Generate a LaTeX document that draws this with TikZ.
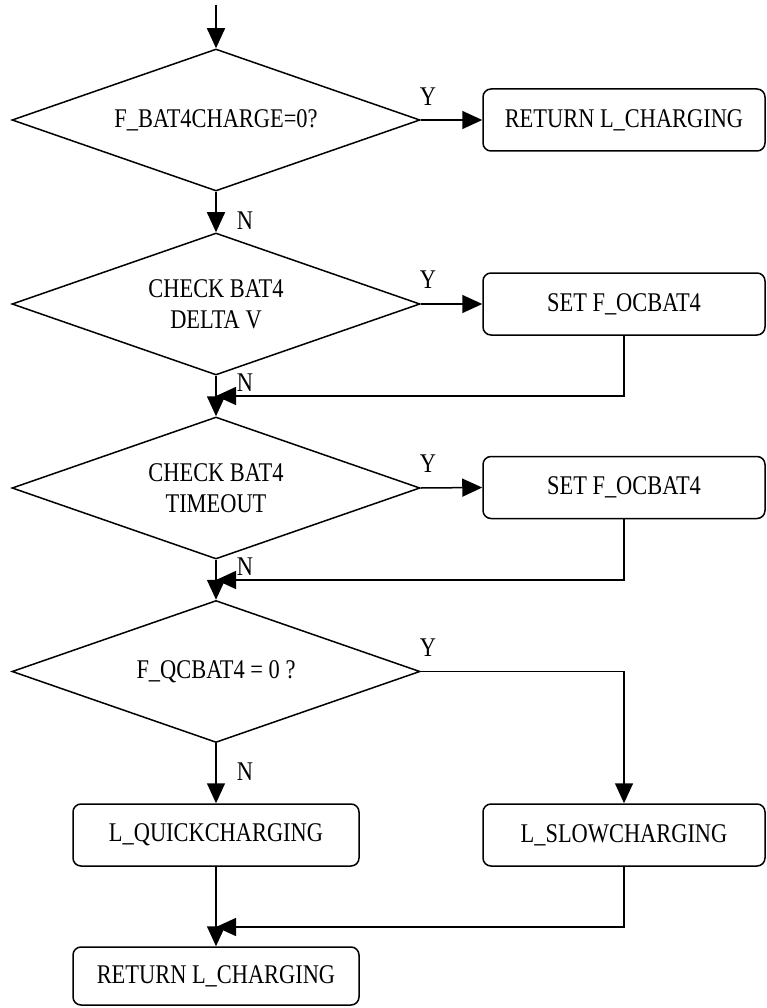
\documentclass[tikz,border=0pt]{standalone}
\usepackage{fontspec}
\setmainfont[FakeStretch=0.83]{Liberation Serif}
\usetikzlibrary{shapes.geometric,arrows.meta}
\begin{document}
\begin{tikzpicture}[x=1pt,y=-1pt,
  every node/.style={font=\fontsize{27}{31}\selectfont},
  dec/.style={diamond,aspect=2.873,draw,line width=1.5pt,minimum width=408pt,minimum height=142pt,inner sep=0pt,align=center},
  proc/.style={draw,rounded corners=8pt,line width=1.5pt,minimum height=62pt,inner sep=0pt},
  lbox/.style={proc,minimum width=286pt},
  rbox/.style={proc,minimum width=282pt},
  lab/.style={inner sep=0pt},
  conn/.style={line width=1.5pt},
  arr/.style={conn,-{Triangle[length=20pt,width=18pt]}}]
\useasboundingbox (0,0) rectangle (766,1008);

\coordinate (start) at (216,5);
\node[dec] (d1) at (216,120) {F\_BAT4CHARGE=0?};
\node[rbox] (b1) at (624,120) {RETURN L\_CHARGING};
\node[dec] (d2) at (216,304) {CHECK BAT4\\DELTA V};
\node[rbox] (b2) at (624,304) {SET F\_OCBAT4};
\node[dec] (d3) at (216,488) {CHECK BAT4\\TIMEOUT};
\node[rbox] (b3) at (624,487.5) {SET F\_OCBAT4};
\node[dec] (d4) at (216,671.5) {F\_QCBAT4 = 0 ?};
\node[lbox] (qb) at (216,835) {L\_QUICKCHARGING};
\node[rbox] (sb) at (624,835) {L\_SLOWCHARGING};
\node[lbox,minimum height=58pt] (ret) at (216,976) {RETURN L\_CHARGING};

\node[lab] (y1) at (428,97) {Y};
\node[lab] (y2) at (428,280) {Y};
\node[lab] (y3) at (428,464) {Y};
\node[lab] (y4) at (428,648) {Y};
\node[lab] (n1) at (245,221) {N};
\node[lab] (n2) at (245,383) {N};
\node[lab] (n3) at (245,567) {N};
\node[lab] (n4) at (245,772) {N};

\coordinate (m1) at (216,396);
\coordinate (m2) at (216,580);
\coordinate (m3) at (216,927);

\draw[arr] (start) -- (d1.north);
\draw[arr] (d1.east) -- (b1.west);
\draw[arr] (d1.south) -- (d2.north);
\draw[arr] (d2.east) -- (b2.west);
\draw[arr] (d2.south) -- (d3.north);
\draw[arr] (b2.south) |- (m1);
\draw[arr] (d3.east) -- (b3.west);
\draw[arr] (d3.south) -- (d4.north);
\draw[arr] (b3.south) |- (m2);
\draw[arr] (d4.east) -| (sb.north);
\draw[arr] (d4.south) -- (qb.north);
\draw[arr] (qb.south) -- (ret.north);
\draw[arr] (sb.south) |- (m3);
\end{tikzpicture}
\end{document}
